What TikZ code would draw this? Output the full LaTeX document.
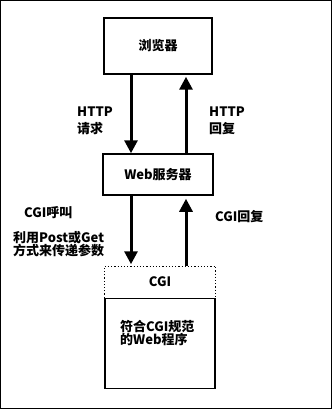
\documentclass[tikz,border=0pt]{standalone}
\usepackage{fontspec}
\setmainfont{Noto Sans CJK SC}
\usetikzlibrary{arrows.meta}
\begin{document}
\begin{tikzpicture}[x=1pt,y=-1pt,
  box/.style={draw=black,line width=1.5pt,minimum width=108pt,inner sep=0pt,font=\bfseries\fontsize{13}{13}\selectfont},
  arr/.style={line width=3pt,-{Triangle[width=13pt,length=13pt]}},
  lbl/.style={font=\bfseries\fontsize{13}{13}\selectfont,align=left,inner sep=0pt}]
\useasboundingbox (0,0) rectangle (332,409);
\draw[line width=1pt] (0.5,0.5) rectangle (331.5,408.5);
\node[box,minimum height=56pt] (browser) at (158,46) {浏览器};
\node[box,minimum height=41pt,minimum width=110pt] (web) at (158,174.5) {Web服务器};
\node[box,draw=none,minimum height=30pt,minimum width=110pt] (cgi) at (160,282) {CGI};
\draw[line width=1.2pt,dotted] (cgi.south west) -- (cgi.north west) -- (cgi.north east) -- (cgi.south east);
\node[box,minimum height=90pt,minimum width=110pt,anchor=north] (prog) at (cgi.south) {};
\node[lbl,anchor=north west] (progtext) at (120,320) {符合CGI规范\\的Web程序};
\coordinate (la) at (131,0);
\coordinate (ra) at (186,0);
\draw[arr] (browser.south -| la) -- (web.north -| la);
\draw[arr,shorten >=2pt] (web.north -| ra) -- (browser.south -| ra);
\draw[arr,shorten >=2pt] (web.south -| la) -- (cgi.north -| la);
\draw[arr,shorten >=3pt] (cgi.north -| ra) -- (web.south -| ra);
\node[lbl,anchor=north west,font=\bfseries\fontsize{13}{17}\selectfont] (req) at (77,107) {HTTP\\请求};
\node[lbl,anchor=north west,font=\bfseries\fontsize{13}{17}\selectfont] (resp) at (209,107) {HTTP\\回复};
\node[lbl,anchor=west] (call) at (24,213) {CGI呼叫};
\node[lbl,anchor=west] (cgiresp) at (215,217) {CGI回复};
\node[lbl,anchor=north west] (post) at (13,231) {利用Post或Get\\方式来传递参数};
\end{tikzpicture}
\end{document}
